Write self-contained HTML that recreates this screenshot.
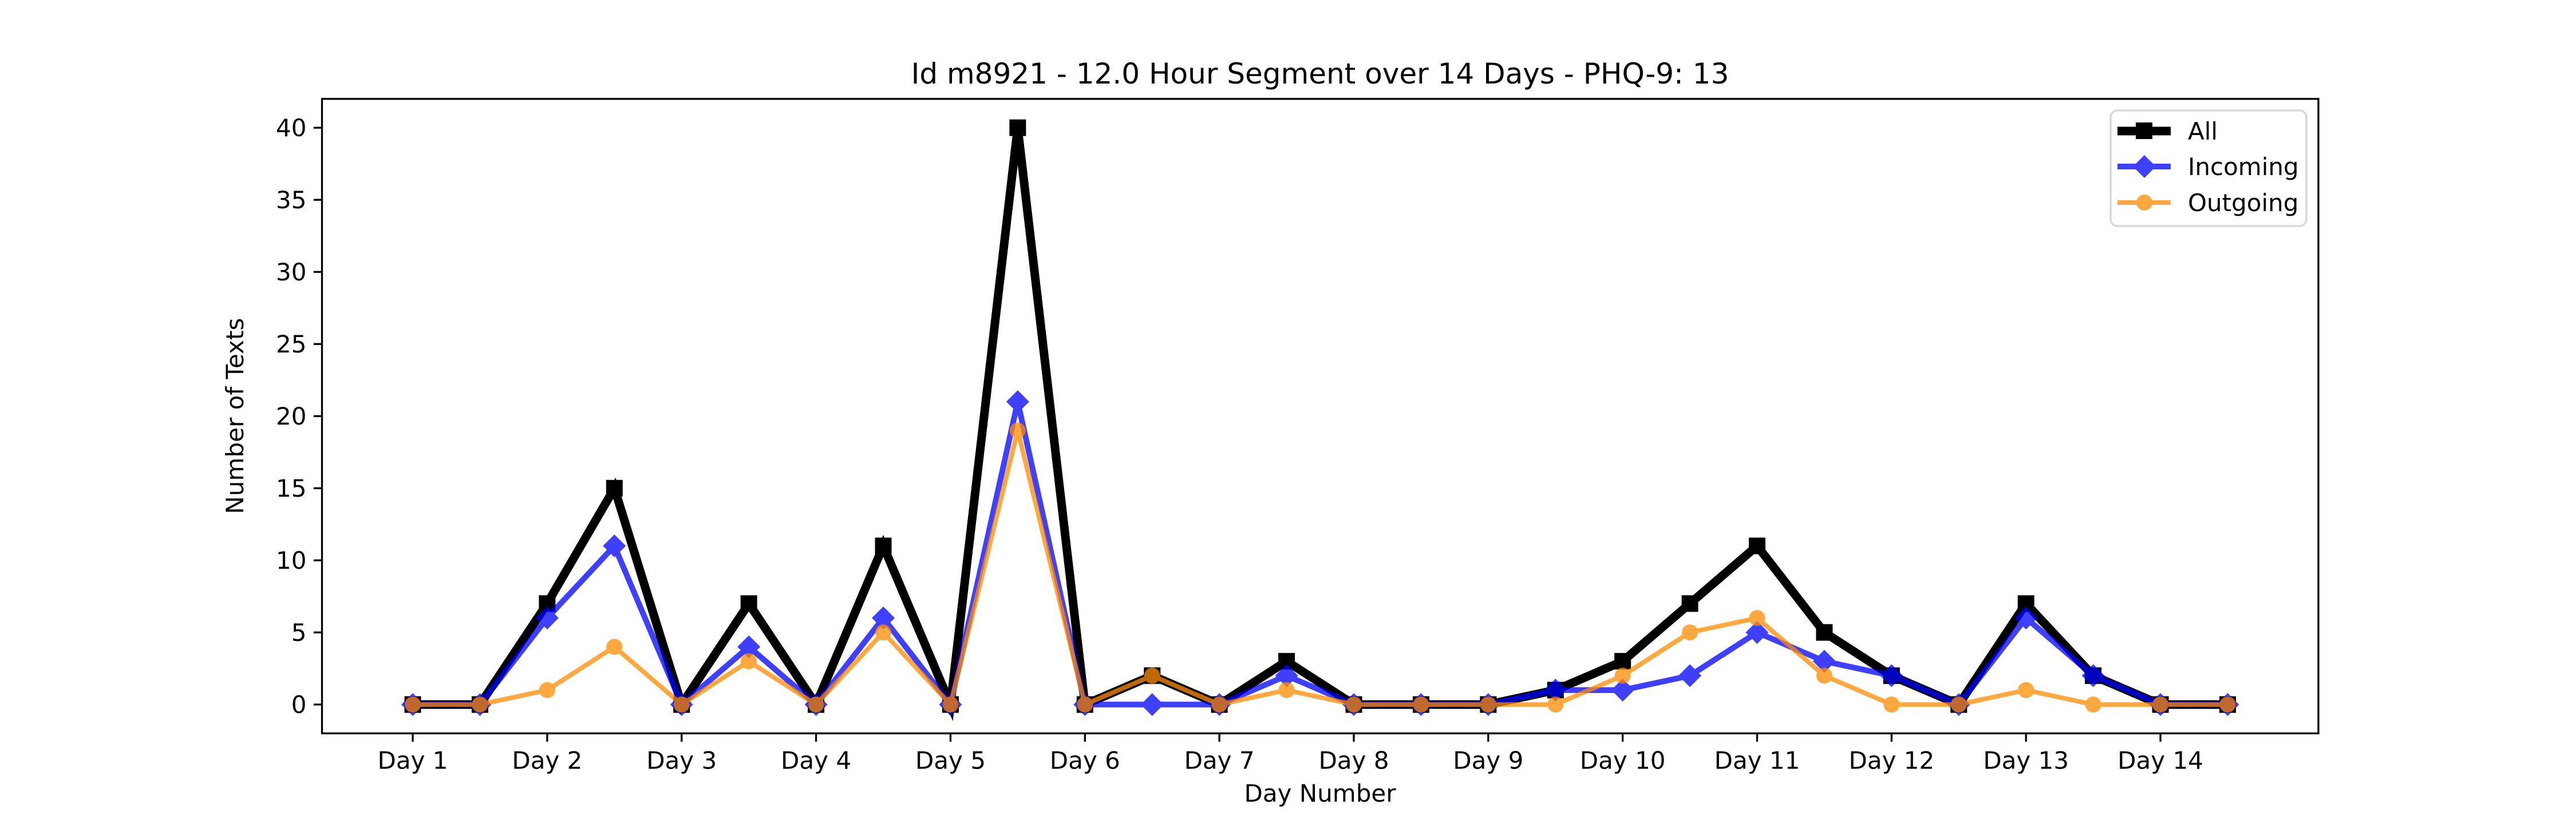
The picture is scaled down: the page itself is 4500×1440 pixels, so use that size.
<!DOCTYPE html>
<html><head><meta charset="utf-8"><style>
html,body{margin:0;padding:0;background:#fff;}
svg{display:block;font-family:"DejaVu Sans","Liberation Sans",sans-serif;}
</style></head><body>
<svg id="chart" width="4500" height="1440" viewBox="0 0 4500 1440" xmlns="http://www.w3.org/2000/svg">
<rect width="4500" height="1440" fill="#fff"/>
<text x="2306" y="146" font-size="50" text-anchor="middle">Id m8921 - 12.0 Hour Segment over 14 Days - PHQ-9: 13</text>
<g id="plot"></g>
<g id="axes"></g>
<rect x="562.5" y="172.8" width="3487.5" height="1108.8" fill="none" stroke="#000" stroke-width="3.3"/>
<text x="2306" y="1401" font-size="42" text-anchor="middle">Day Number</text>
<text transform="translate(425,727) rotate(-90)" font-size="42" text-anchor="middle">Number of Texts</text>
<g>
<rect x="3687" y="193" width="342" height="202" rx="12" fill="#fff" fill-opacity="0.8" stroke="#d6d6d6" stroke-width="3.3"/>
<g>
<line x1="3699" y1="229" x2="3792" y2="229" stroke="#000" stroke-width="15"/>
<rect x="3731" y="214" width="29" height="29" fill="#000"/>
<text x="3822" y="244" font-size="42">All</text></g>
<g opacity="0.75">
<line x1="3699" y1="291" x2="3792" y2="291" stroke="#0000ff" stroke-width="10"/>
<polygon points="3746,271 3766,291 3746,311 3726,291" fill="#0000ff"/></g>
<text x="3822" y="306" font-size="42">Incoming</text>
<g opacity="0.75">
<line x1="3699" y1="354" x2="3792" y2="354" stroke="#ff8c00" stroke-width="8"/>
<circle cx="3746" cy="354" r="14" fill="#ff8c00"/></g>
<text x="3822" y="369" font-size="42">Outgoing</text>
</g>
</svg>
<script>
const allValues=[0,0,7,15,0,7,0,11,0,40,0,2,0,3,0,0,0,1,3,7,11,5,2,0,7,2,0,0];
const incomingValues=[0,0,6,11,0,4,0,6,0,21,0,0,0,2,0,0,0,1,1,2,5,3,2,0,6,2,0,0];
const outgoingValues=[0,0,1,4,0,3,0,5,0,19,0,2,0,1,0,0,0,0,2,5,6,2,0,0,1,0,0,0];
const xTickLabels=["Day 1","Day 2","Day 3","Day 4","Day 5","Day 6","Day 7","Day 8","Day 9","Day 10","Day 11","Day 12","Day 13","Day 14"];
const yTicks=[0,5,10,15,20,25,30,35,40];

const L=562.5,R=4050,T=172.8,B=1281.6;
const n=allValues.length;
const xmin=-0.05*(n-1),xmax=(n-1)*1.05;
const ymaxData=Math.max(...allValues),yminD=0;
const ymin=yminD-0.05*(ymaxData-yminD),ymax=ymaxData+0.05*(ymaxData-yminD);
function xs(i){return L+(i-xmin)/(xmax-xmin)*(R-L);}
function ys(v){return B-(v-ymin)/(ymax-ymin)*(B-T);}
const NS="http://www.w3.org/2000/svg";
const plot=document.getElementById('plot'),axes=document.getElementById('axes');
function mk(tag,attrs,parent){const e=document.createElementNS(NS,tag);for(const k in attrs)e.setAttribute(k,attrs[k]);parent.appendChild(e);return e;}

yTicks.forEach(v=>{
  const y=ys(v);
  const t=mk('line',{x1:L-14.6,x2:L,y1:y,y2:y,stroke:'#000','stroke-width':3.3},axes);
  
  
  const tx=mk('text',{x:L-27,y:y+15,'font-size':42,'text-anchor':'end'},axes);
  tx.textContent=v;
  
  
});
xTickLabels.forEach((lab,k)=>{
  const x=xs(2*k);
  const t=mk('line',{x1:x,x2:x,y1:B,y2:B+14.6,stroke:'#000','stroke-width':3.3},axes);
  
  
  const tx=mk('text',{x:x,y:B+62,'font-size':42,'text-anchor':'middle'},axes);
  tx.textContent=lab;
  
  
});

function series(vals,name,color,lw,marker,op){
  const g=mk('g',{opacity:op},plot);
  
  
  const pts=vals.map((v,i)=>xs(i)+','+ys(v)).join(' ');
  const pl=mk('polyline',{points:pts,fill:'none',stroke:color,'stroke-width':lw,'stroke-linejoin':'miter'},g);
  
  
  vals.forEach((v,i)=>{
    const x=xs(i),y=ys(v);let m;
    if(marker==='s')m=mk('rect',{x:x-14.5,y:y-14.5,width:29,height:29,fill:color},g);
    else if(marker==='d')m=mk('polygon',{points:`${x},${y-20} ${x+20},${y} ${x},${y+20} ${x-20},${y}`,fill:color},g);
    else m=mk('circle',{cx:x,cy:y,r:14,fill:color},g);
    
    
  });
}
series(allValues,'all','#000',15,'s',1);
series(incomingValues,'incoming','#0000ff',10,'d',0.75);
series(outgoingValues,'outgoing','#ff8c00',8,'o',0.75);
</script>
</body></html>
